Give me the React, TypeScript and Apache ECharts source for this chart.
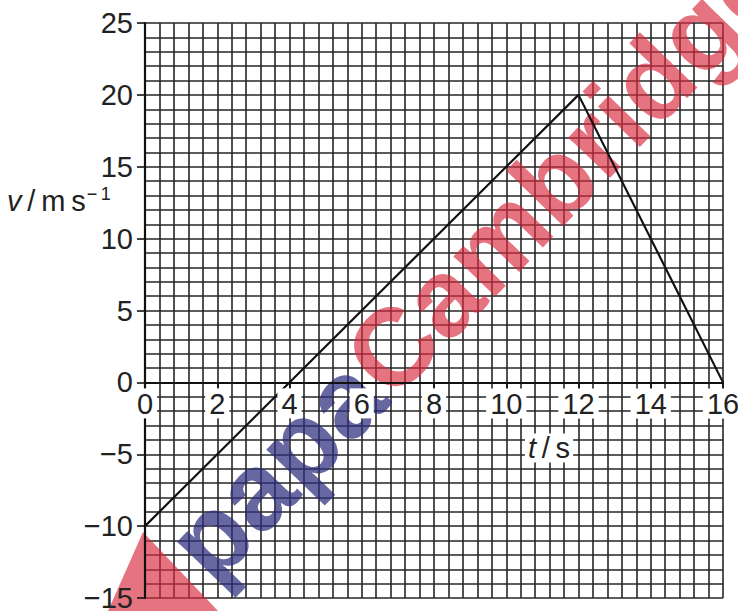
import React, { useEffect, useRef } from 'react';
import * as echarts from 'echarts';

// data
const times = [0, 12, 16];
const velocities = [-10, 20, 0];
const xMin = 0;
const xMax = 16;
const xMajor = 2;
const xMinor = 0.4;
const yMin = -15;
const yMax = 25;
const yMajor = 5;
const yMinor = 1;
const watermarkBlue = 'papa';
const watermarkRed = 'Cambridge';

const FONT = "'Liberation Sans Narrow', 'Arial Narrow', 'Liberation Sans', Arial, sans-serif";
const fmt = (v: number) => (v < 0 ? '\u2212' + Math.abs(v) : String(v));

const W = 738;
const H = 611;
const GRID = { left: 145, right: 15, top: 23, bottom: 13 };

export default function App() {
  const ref = useRef<HTMLDivElement>(null);
  useEffect(() => {
    const chart = echarts.init(ref.current!, null, { renderer: 'svg' });
    const plotH = H - GRID.top - GRID.bottom;
    const zeroOffset = -((0 - yMin) / (yMax - yMin)) * plotH;
    chart.setOption({
      animation: false,
      backgroundColor: '#fff',
      grid: { ...GRID, outerBoundsMode: 'none', containLabel: false },
      xAxis: [
        {
          type: 'value', min: xMin, max: xMax, interval: xMajor, z: 6,
          position: 'bottom', offset: zeroOffset,
          axisLine: { show: true, onZero: false, lineStyle: { color: '#111', width: 2.2 } },
          axisTick: { show: true, length: 6, lineStyle: { color: '#111', width: 1.6 } },
          axisLabel: {
            fontFamily: FONT, fontSize: 29, color: '#222', margin: 6,
            backgroundColor: '#fff', padding: [1, 4, 0, 4], formatter: fmt,
          },
          splitLine: { show: false },
        },
        {
          type: 'value', min: xMin, max: xMax, interval: xMinor, z: 0,
          axisLine: { show: false, onZero: false }, axisTick: { show: false }, axisLabel: { show: false },
          splitLine: { show: true, lineStyle: { color: '#262626', width: 1.6 } },
        },
      ],
      yAxis: [
        {
          type: 'value', min: yMin, max: yMax, interval: yMajor, z: 5,
          axisLine: { show: true, onZero: false, lineStyle: { color: '#111', width: 2.2 } },
          axisTick: { show: true, length: 8, lineStyle: { color: '#111', width: 1.6 } },
          axisLabel: { fontFamily: FONT, fontSize: 29, color: '#222', margin: 12, formatter: fmt },
          splitLine: { show: false },
        },
        {
          type: 'value', min: yMin, max: yMax, interval: yMinor, z: 0,
          axisLine: { show: false, onZero: false }, axisTick: { show: false }, axisLabel: { show: false },
          splitLine: { show: true, lineStyle: { color: '#262626', width: 1.6 } },
        },
      ],
      series: [
        {
          type: 'line', xAxisIndex: 0, yAxisIndex: 0, z: 4,
          data: times.map((t, i) => [t, velocities[i]]),
          showSymbol: false, symbol: 'none',
          lineStyle: { color: '#111', width: 2.2 },
        },
      ],
      graphic: [
        {
          type: 'polygon', z: 3, silent: true,
          shape: { points: [[143, 532], [218, 611], [108, 611]] },
          style: { fill: 'rgba(215,40,60,0.65)' },
        },
        {
          type: 'text', z: 3, silent: true,
          x: 475, y: 262, rotation: (46 * Math.PI) / 180,
          style: {
            text: `{b|${watermarkBlue}}{r|${watermarkRed}}`,
            align: 'center', verticalAlign: 'middle',
            rich: {
              b: { fontFamily: "'Liberation Sans', Arial, sans-serif", fontWeight: 'bold', fontSize: 110, fill: 'rgba(45,45,125,0.72)' },
              r: { fontFamily: "'Liberation Sans', Arial, sans-serif", fontWeight: 'bold', fontSize: 110, fill: 'rgba(215,40,60,0.65)' },
            },
          },
        },
        {
          type: 'text', z: 7, silent: true,
          x: 549, y: 448,
          style: {
            text: '{i|t}{n|\u2009/\u2009s}',
            align: 'center', verticalAlign: 'middle',
            backgroundColor: '#fff', padding: [0, 3],
            rich: {
              i: { fontFamily: FONT, fontStyle: 'italic', fontSize: 29, fill: '#222' },
              n: { fontFamily: FONT, fontSize: 29, fill: '#222' },
            },
          },
        },
        {
          type: 'text', z: 7, silent: true,
          x: 7, y: 201,
          style: {
            text: '{i|v}{n|\u2009/\u2009m\u2009s}{s|\u2212\u20091}',
            align: 'left', verticalAlign: 'middle',
            rich: {
              i: { fontFamily: FONT, fontStyle: 'italic', fontSize: 29, fill: '#222' },
              n: { fontFamily: FONT, fontSize: 29, fill: '#222' },
              s: { fontFamily: FONT, fontSize: 18, fill: '#222', verticalAlign: 'top', padding: [0, 0, 14, 1] },
            },
          },
        },
      ],
    });
    return () => chart.dispose();
  }, []);
  return (
    <div
      ref={ref}
      style={{ position: 'fixed', left: 0, top: 0, width: W, height: H, background: '#fff' }}
    />
  );
}
